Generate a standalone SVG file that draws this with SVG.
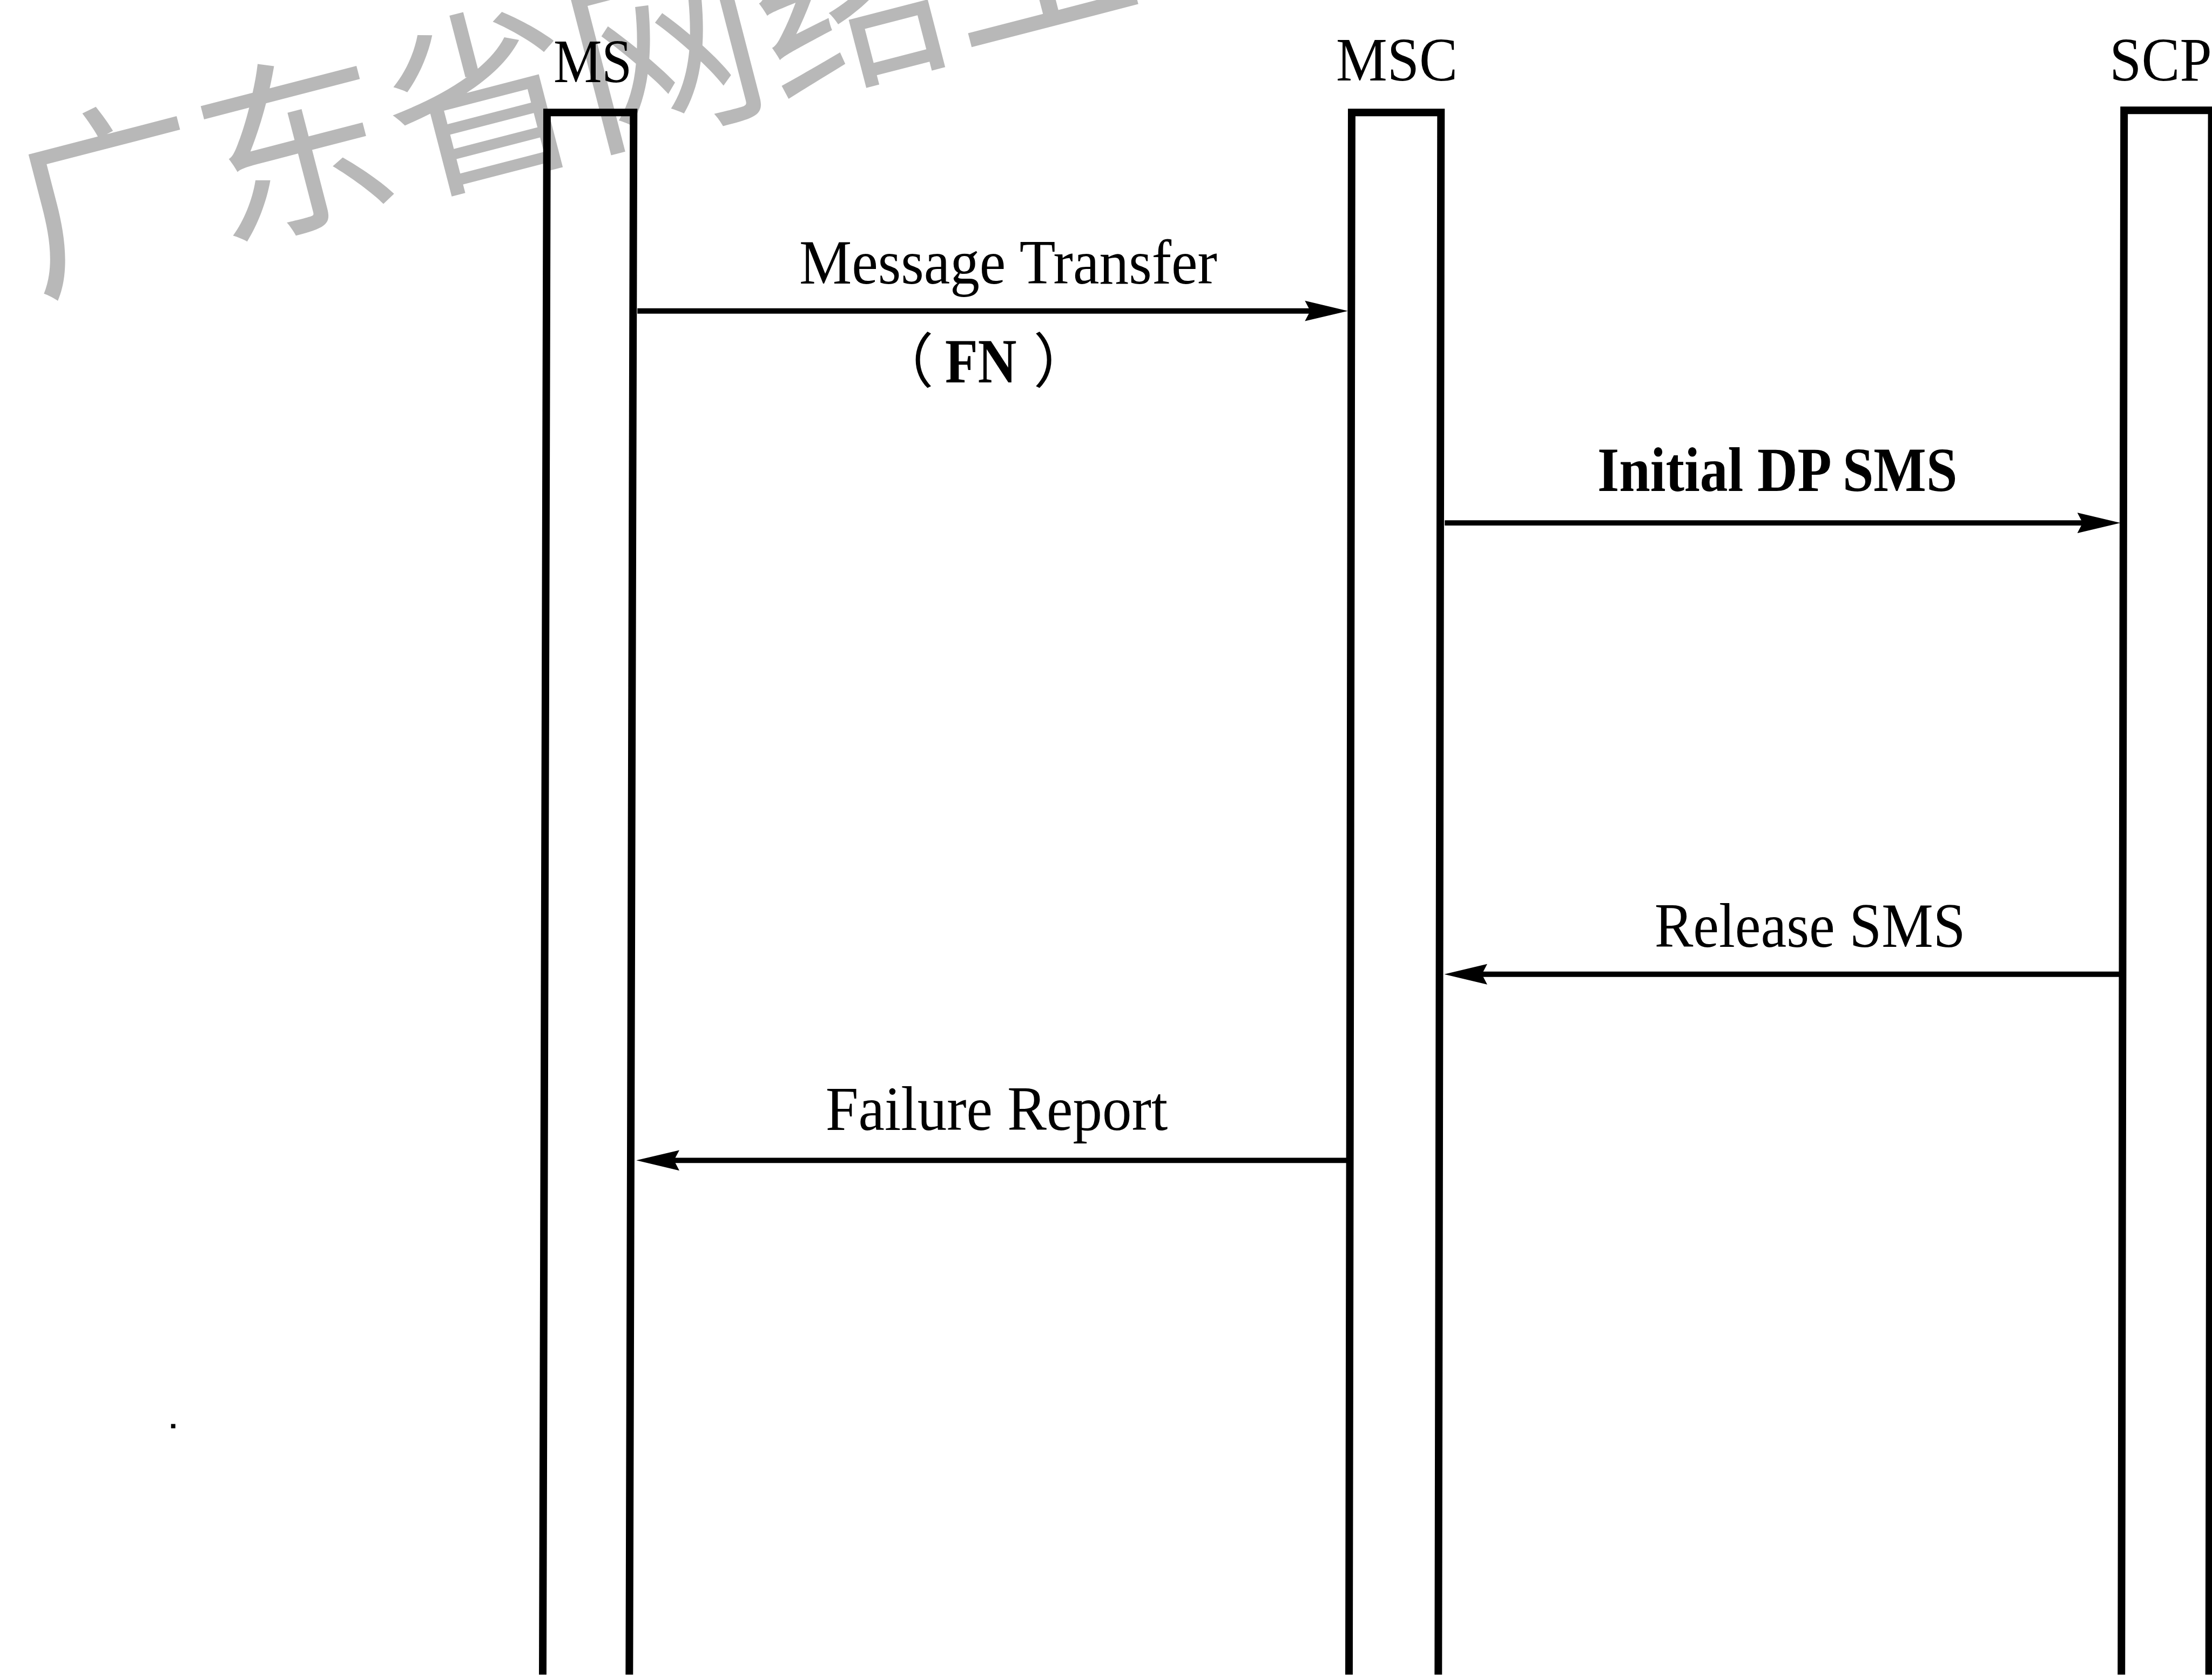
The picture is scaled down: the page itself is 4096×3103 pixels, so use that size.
<svg xmlns="http://www.w3.org/2000/svg" width="4096" height="3103" viewBox="0 0 4096 3103">
<style>
.life{fill:none;stroke:#000;stroke-width:14;stroke-linejoin:miter}
.msg{fill:none;stroke:#000;stroke-width:10}
.lbl{font-family:"Liberation Serif","Times New Roman",serif;font-size:116px;fill:#000}
.hdr{font-family:"Liberation Serif","Times New Roman",serif;font-size:115px;fill:#000}
.par{font-family:"Noto Sans CJK SC","Noto Sans CJK TC",sans-serif;font-size:110px;fill:#000}
.wm{font-family:"Noto Sans CJK SC","Noto Sans CJK TC",sans-serif;font-size:356px;fill:#b8b8b8}
</style>
<defs>
<marker id="ah" viewBox="-40 -20 80 40" refX="0" refY="0" markerWidth="80" markerHeight="40" markerUnits="userSpaceOnUse" orient="auto">
<path d="M40,0 L-40,-19 L-30,0 L-40,19 Z" fill="#000"/>
</marker>
</defs>
<rect x="0" y="0" width="4096" height="3103" fill="#fff"/>
<g transform="scale(0.996)">
<g id="watermark">
<text class="wm" x="65" y="537" transform="rotate(-14.5 65 537)">广东省网络工</text>
</g>
<g id="node-ms">
<path class="life" d="M1009,3113 L1017,209 H1178 L1170,3113"/>
<text class="hdr" x="1029" y="153" textLength="146" lengthAdjust="spacingAndGlyphs">MS</text>
</g>
<g id="node-msc">
<path class="life" d="M2508,3113 L2513,209 H2679 L2674,3113"/>
<text class="hdr" x="2484" y="150" textLength="226" lengthAdjust="spacingAndGlyphs">MSC</text>
</g>
<g id="node-scp">
<path class="life" d="M3944,3113 L3949,205 H4112 L4107,3113"/>
<text class="hdr" x="3922" y="150" textLength="190" lengthAdjust="spacingAndGlyphs">SCP</text>
</g>
<g id="connectors">
<line class="msg" x1="1185" y1="578" x2="2466" y2="578" marker-end="url(#ah)"/>
<line class="msg" x1="2686" y1="972" x2="3902" y2="972" marker-end="url(#ah)"/>
<line class="msg" x1="3941" y1="1811" x2="2725" y2="1811" marker-end="url(#ah)"/>
<line class="msg" x1="2505" y1="2157" x2="1223" y2="2157" marker-end="url(#ah)"/>
</g>
<g id="labels">
<text class="lbl" x="1486" y="527" textLength="777" lengthAdjust="spacingAndGlyphs">Message Transfer</text>
<text class="par" x="1626" y="711">（</text>
<text class="lbl" x="1757" y="711" font-weight="bold" textLength="133" lengthAdjust="spacingAndGlyphs">FN</text>
<text class="par" x="1921" y="711">）</text>
<text class="lbl" x="2970" y="913" font-weight="bold" textLength="669" lengthAdjust="spacingAndGlyphs">Initial DP SMS</text>
<text class="lbl" x="3076" y="1760" textLength="578" lengthAdjust="spacingAndGlyphs">Release SMS</text>
<text class="lbl" x="1535" y="2100" textLength="636" lengthAdjust="spacingAndGlyphs">Failure Report</text>
</g>
<rect x="318" y="2647" width="8" height="8" fill="#000"/>
</g>
</svg>
